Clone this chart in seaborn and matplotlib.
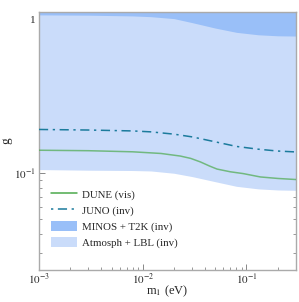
import numpy as np
import pandas as pd
import seaborn as sns
import matplotlib.pyplot as plt
from matplotlib.ticker import FixedLocator, LogLocator, NullFormatter
from matplotlib.lines import Line2D
from matplotlib.patches import Patch

# lightest neutrino mass grid (eV)
m1 = [1e-3, 3e-3, 8e-3, 1.2e-2, 2e-2, 3e-2, 5e-2, 8e-2, 0.13, 0.2, 0.3]

# lower edges of the excluded regions
atm_low = [0.1057, 0.1047, 0.1042, 0.1035, 0.1000, 0.0951, 0.0881, 0.0822, 0.0791, 0.0778, 0.0774]
minos_low = [1.079, 1.074, 1.062, 1.050, 1.020, 0.960, 0.885, 0.830, 0.800, 0.788, 0.785]

# sensitivity curves
juno = [0.193, 0.1914, 0.1888, 0.1862, 0.1799, 0.1726, 0.1603, 0.1496, 0.1435, 0.1396, 0.1377]
m1_dune = [1e-3, 3e-3, 8e-3, 1.5e-2, 2.3e-2, 2.9e-2, 3.6e-2, 4.4e-2, 5.2e-2, 7e-2, 9.3e-2, 0.136, 0.2, 0.3]
dune = [0.1413, 0.1403, 0.138, 0.1346, 0.1295, 0.1250, 0.1185, 0.1115, 0.1065, 0.1022, 0.0995, 0.0946, 0.0925, 0.0910]

sns.set_theme(style='ticks')
plt.rcParams['font.family'] = ['Liberation Serif', 'DejaVu Serif']
plt.rcParams['mathtext.fontset'] = 'stix'

fig = plt.figure(figsize=(2.99, 3.02), dpi=100)
ax = fig.add_axes([0.1304, 0.107, 0.8595, 0.852])

light = '#cadcfa'
dark = '#99bff8'
green = '#4caa4c'
teal = '#1b7b9c'

ax.fill_between(m1, atm_low, 5, color=light, lw=0, zorder=1)
ax.fill_between(m1, minos_low, 5, color=dark, lw=0, zorder=2)

df_d = pd.DataFrame({'m1': m1_dune, 'g': dune})
df_j = pd.DataFrame({'m1': m1, 'g': juno})
sns.lineplot(data=df_d, x='m1', y='g', ax=ax, color=green, lw=1.1, alpha=0.7, zorder=3)
sns.lineplot(data=df_j, x='m1', y='g', ax=ax, color=teal, lw=1.1, zorder=3,
             linestyle=(0, (6, 3, 1.5, 3)))

ax.set_xscale('log')
ax.set_yscale('log')
ax.set_xlim(1e-3, 0.3)
ax.set_ylim(0.0235, 1.12)

ax.xaxis.set_major_locator(FixedLocator([1e-3, 1e-2, 1e-1]))
ax.set_xticklabels([r'$10^{-3}$', r'$10^{-2}$', r'$10^{-1}$'])
ax.xaxis.set_minor_locator(LogLocator(base=10, subs=np.arange(2, 10)))
ax.xaxis.set_minor_formatter(NullFormatter())
ax.yaxis.set_major_locator(FixedLocator([0.1, 1]))
ax.set_yticklabels([r'$10^{-1}$', '1'])
ax.yaxis.set_minor_locator(LogLocator(base=10, subs=np.arange(2, 10)))
ax.yaxis.set_minor_formatter(NullFormatter())

ax.tick_params(which='both', direction='in', top=True, right=True, color='#888888',
               labelsize=8, pad=2.5)
ax.tick_params(axis='x', pad=1.5)
ax.tick_params(which='major', length=4, width=0.7)
ax.tick_params(which='minor', length=2, width=0.6)
for s in ax.spines.values():
    s.set_color('#aaaaaa')
    s.set_linewidth(1.0)

ax.set_xlabel(r'm$_1$ (eV)', fontsize=9)
ax.xaxis.set_label_coords(0.5, -0.052)
ax.set_ylabel('g', fontsize=9.5)
ax.yaxis.set_label_coords(-0.105, 0.5)

handles = [
    Line2D([], [], color=green, lw=1.1),
    Line2D([], [], color=teal, lw=1.1, linestyle=(0, (1.5, 3, 6, 3))),
    Patch(facecolor=dark, lw=0),
    Patch(facecolor=light, lw=0),
]
labels = ['DUNE (vis)', 'JUNO (inv)', 'MINOS + T2K (inv)', 'Atmosph + LBL (inv)']
ax.legend(handles, labels, loc='lower left', bbox_to_anchor=(0.03, 0.067), frameon=False,
          fontsize=7.8, handlelength=2.4, handleheight=1.1, handletextpad=0.45,
          labelspacing=0.45, borderaxespad=0)

fig.savefig('out.png', dpi=100)
